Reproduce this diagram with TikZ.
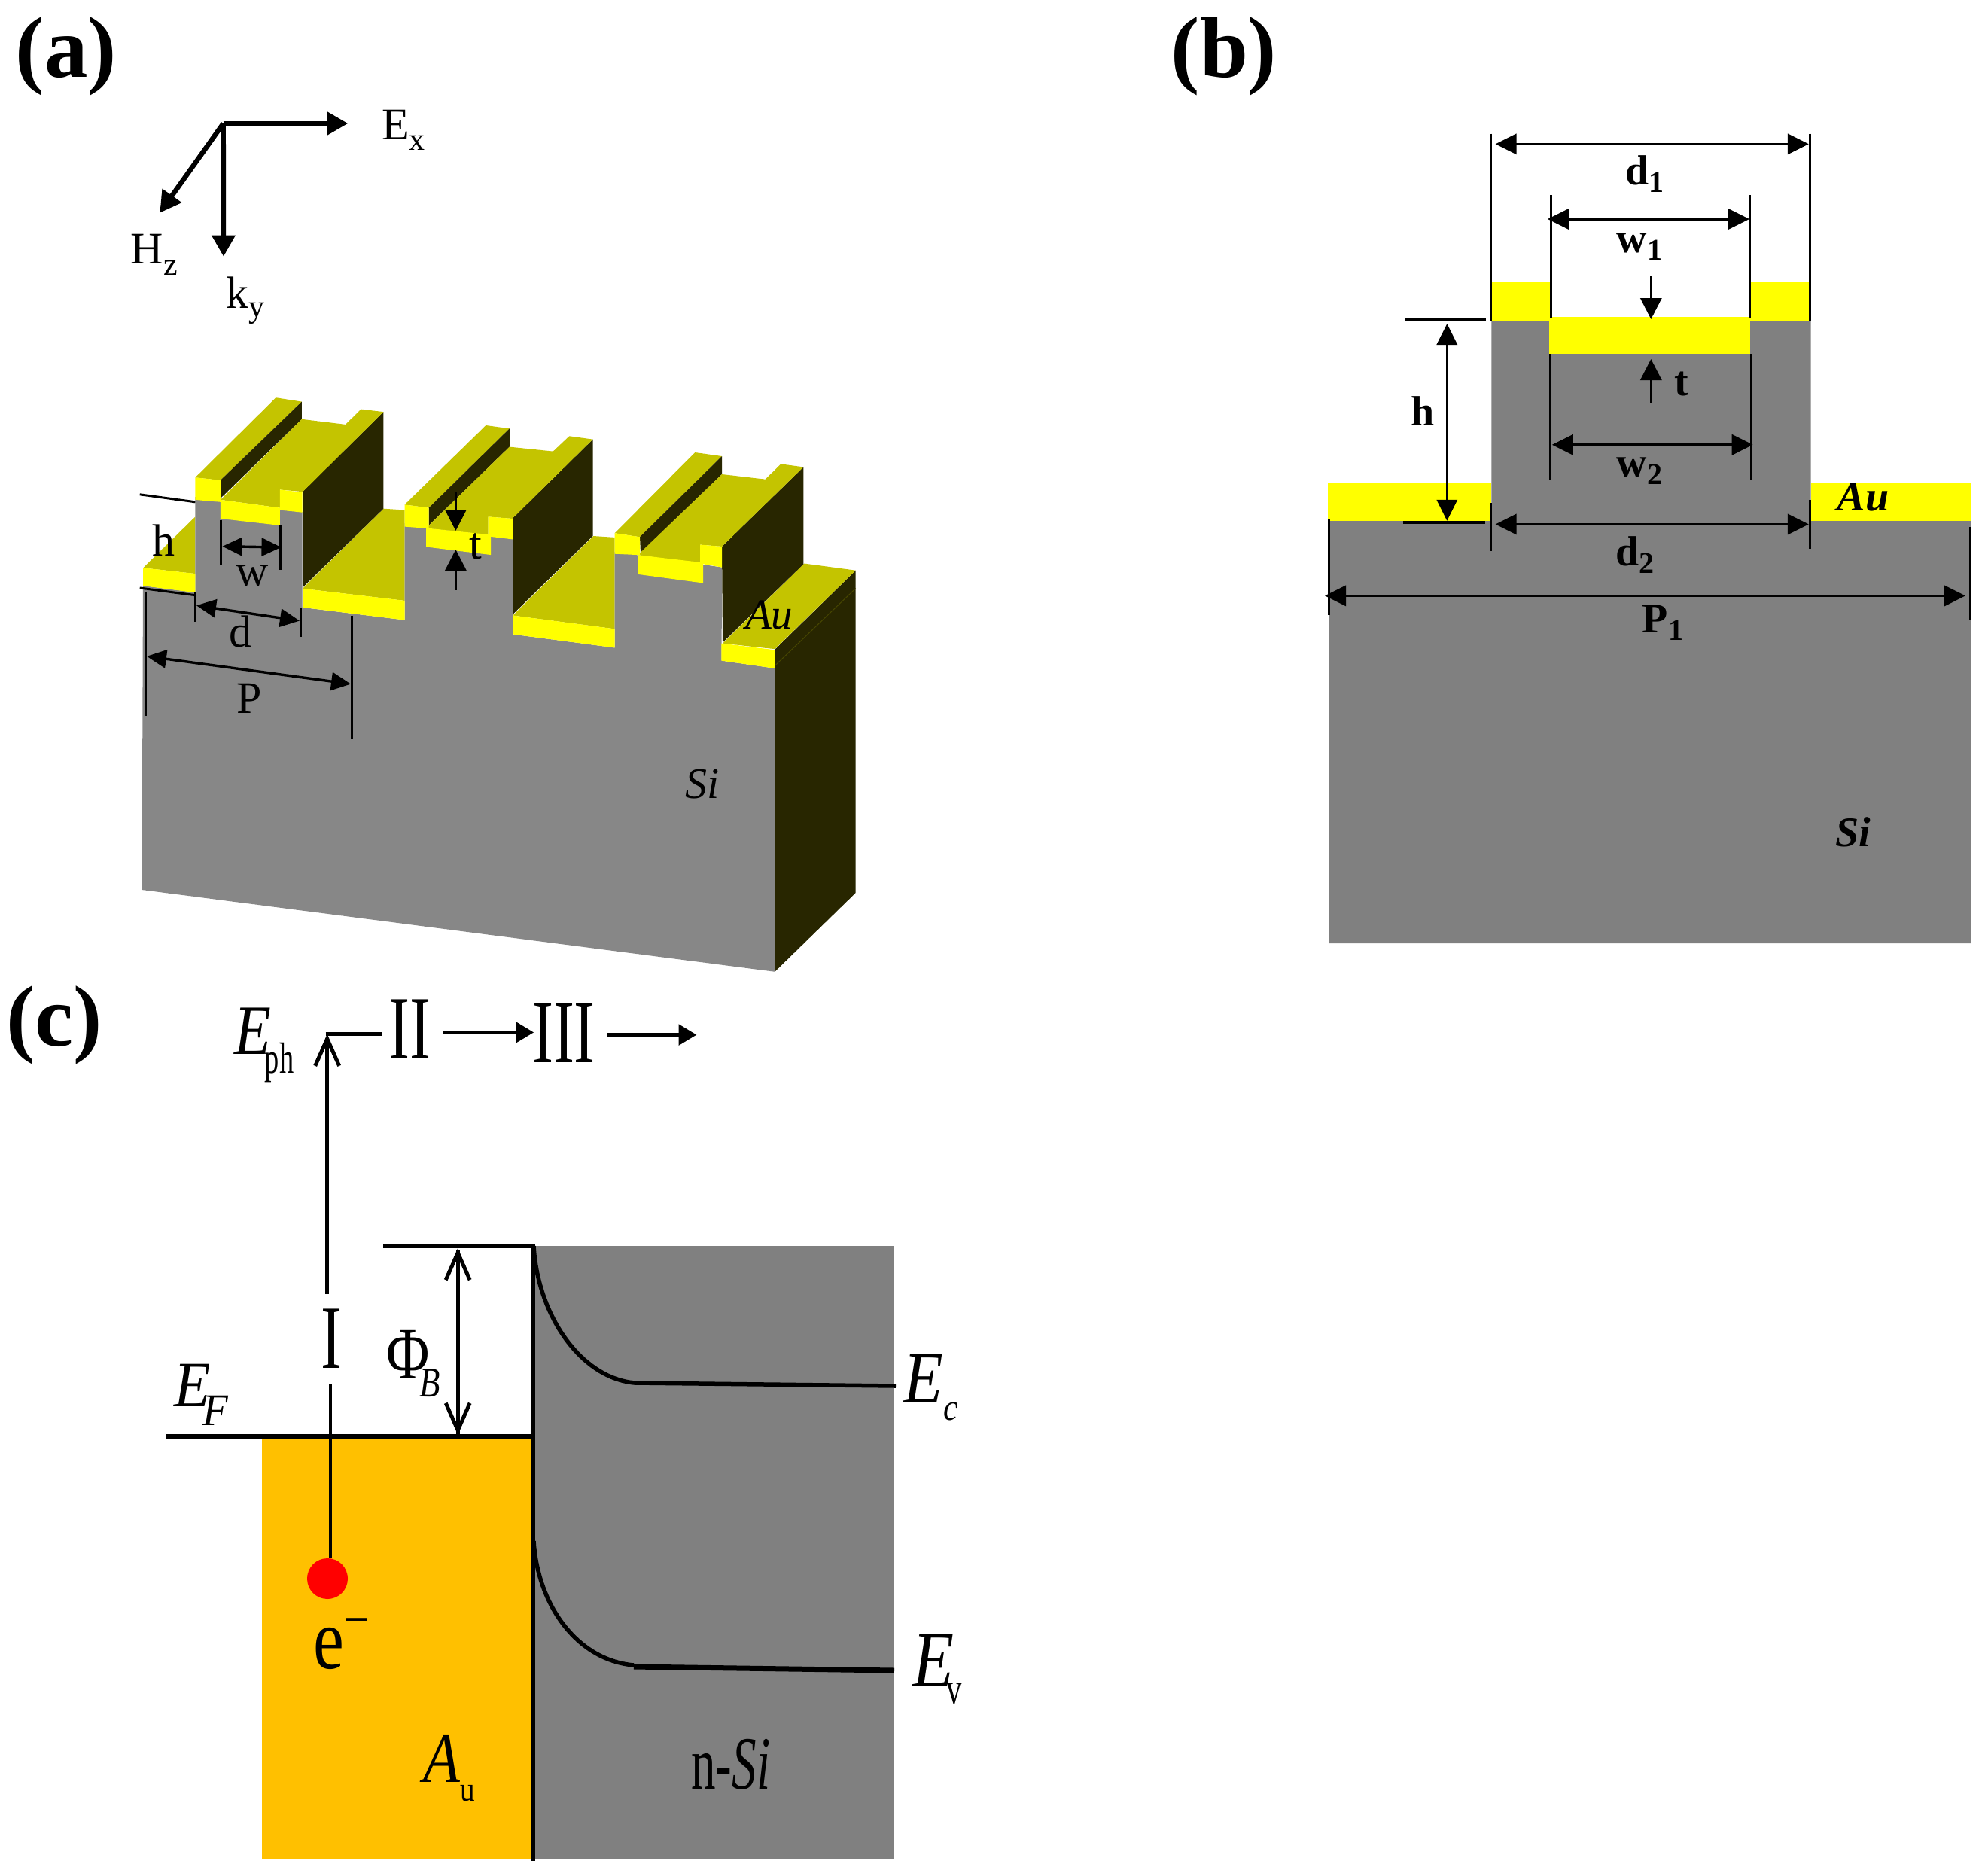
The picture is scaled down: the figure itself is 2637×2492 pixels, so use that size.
\documentclass[tikz,border=0pt]{standalone}
\usepackage{fontspec}
\usepackage{graphicx}
\setmainfont{Liberation Serif}
\usetikzlibrary{arrows.meta}
\definecolor{sia}{HTML}{878787}
\definecolor{sib}{HTML}{808080}
\definecolor{olivetop}{HTML}{C4C400}
\definecolor{darkwall}{HTML}{282600}
\definecolor{aucut}{HTML}{FFFF00}
\definecolor{auband}{HTML}{FFC000}
\newcommand\fsz[1]{\fontsize{#1}{#1}\selectfont}
\newcommand\lsub[3]{\raisebox{-#1pt}{\fsz{#2}#3}}
\tikzset{
  x=1pt,y=-1pt,
  topface/.style={fill=olivetop,draw=none},
  wallface/.style={fill=darkwall,draw=none},
  cutface/.style={fill=aucut,draw=none},
  dimline/.style={line width=3pt,draw=black},
  dimtick/.style={line width=3pt,draw=black},
  dimarrow/.style={line width=3.4pt,draw=black,{Triangle[length=26pt,width=24pt]}-{Triangle[length=26pt,width=24pt]}},
  bdimarrow/.style={line width=3.4pt,draw=black,{Triangle[length=28pt,width=27pt]}-{Triangle[length=28pt,width=27pt]}},
  onearrow/.style={line width=3.4pt,draw=black,-{Triangle[length=28pt,width=28pt]}},
  axisarrow/.style={line width=6.5pt,draw=black,-{Triangle[length=28pt,width=30pt]}},
  flowarrow/.style={line width=5.5pt,draw=black,-{Triangle[length=24pt,width=27pt]}},
  barb/.style={line width=5pt,draw=black,-{Straight Barb[length=36pt,width=32pt]}},
  band/.style={line width=5.5pt,draw=black},
  lab/.style={inner sep=0pt,outer sep=0pt,anchor=base,font=\fsz{60}},
  blab/.style={inner sep=0pt,outer sep=0pt,anchor=base,font=\fsz{56}\bfseries},
  panel/.style={inner sep=0pt,outer sep=0pt,anchor=base,font=\fsz{115}\bfseries},
}
\begin{document}
\begin{tikzpicture}
\path[use as bounding box] (0,0) rectangle (2637,2492);

% ---------- panel labels
\node[panel] (pa) at (88,102) {(a)};
\node[panel] (pb) at (1626,102) {(b)};
\node[panel] (pc) at (72,1389) {(c)};

% ---------- axes
\coordinate (ax0) at (296.7,164);
\draw[axisarrow] (ax0) -- (462.3,164);
\draw[axisarrow] (ax0) -- (297,340.7);
\draw[axisarrow] (ax0) -- (212.3,282.7);
\node[lab] (ex) at (536,185) {E\lsub{14}{42}{x}};
\node[lab] (hz) at (204.7,350) {H\lsub{15}{42}{z}};
\node[lab] (ky) at (325.5,409) {k\lsub{12}{42}{y}};

% ---------- panel (a): block
\fill[wallface] (1030,862.2) -- (1136.7,757.7) -- (1136.7,1186) -- (1029.3,1290.8) -- cycle;
\draw[line width=1pt,color=darkwall!85!yellow] (1030,883.7) -- (1136.7,781.6);
% valleys
\fill[topface] (190.2,754.3) -- (259.4,686.4) -- (259.4,762.1) -- cycle;
\fill[topface] (402,781.8) -- (509.4,675.7) -- (537.5,677.5) -- (537.5,797.9) -- cycle;
\fill[topface] (681.3,817.5) -- (788.4,712) -- (816.5,713.9) -- (816.5,835.4) -- cycle;
\fill[topface] (960,854.6) -- (1068.3,748.5) -- (1136.7,757.7) -- (1029.3,862.2) -- cycle;
% big walls
\fill[wallface] (402,653) -- (509.4,547.1) -- (509.4,675.7) -- (402,780.5) -- cycle;
\fill[wallface] (680.4,689) -- (787.5,583.6) -- (787.5,712) -- (681.3,816) -- cycle;
\fill[wallface] (959,726) -- (1067.3,620.4) -- (1067.3,749.5) -- (960,853.5) -- cycle;
% gray front
\fill[sia] (190,778) -- (259.4,787) -- (259.4,660) -- (401.5,680) -- (401.5,806.8) -- (537.5,823.6)
  -- (537.5,695) -- (680.8,716) -- (680.8,842.5) -- (816.6,860.4) -- (816.6,733) -- (959,753.6)
  -- (958.6,877.6) -- (1029.3,887.8) -- (1029.3,1290.8) -- (188.5,1182) -- cycle;
% front yellow of valleys
\fill[cutface] (190.2,754.3) -- (259.4,762.1) -- (259.4,787.1) -- (190.2,778.2) -- cycle;
\fill[cutface] (402,781.8) -- (537.5,797.9) -- (537.5,823.6) -- (402,806.8) -- cycle;
\fill[cutface] (681.3,817.5) -- (816.5,835.4) -- (816.5,860.4) -- (681.3,842.5) -- cycle;
\fill[cutface] (958.3,854.6) -- (1029.3,863.3) -- (1029.3,887.8) -- (958.3,877.6) -- cycle;
% rib 1
\fill[topface] (259.4,634.3) -- (366.5,528.2) -- (400.9,533.6) -- (292.9,637.9) -- cycle;
\fill[wallface] (292.9,637.9) -- (400.9,533.6) -- (400.9,556.8) -- (292.9,662) -- cycle;
\fill[topface] (292.9,663.9) -- (400.9,556.8) -- (459,563.9) -- (479.5,543.6) -- (509.4,547.1)
  -- (402.2,653.2) -- (371.9,650.4) -- (371.9,674.6) -- cycle;
\fill[cutface] (259.4,634.3) -- (292.9,637.9) -- (292.9,666.8) -- (259.4,663.9) -- cycle;
\fill[cutface] (292.9,663.9) -- (371.9,674.6) -- (371.9,697.9) -- (292.9,688.9) -- cycle;
\fill[cutface] (371.9,650.4) -- (401.5,653.9) -- (401.5,680.7) -- (371.9,677.5) -- cycle;
% rib 2
\fill[topface] (537.5,670.4) -- (645.5,565) -- (676.8,569.3) -- (569.6,674.6) -- cycle;
\fill[wallface] (569.6,674.6) -- (676.8,569.3) -- (676.8,593.6) -- (569.6,697.9) -- cycle;
\fill[topface] (566,701.4) -- (676.8,593.6) -- (734.8,599.6) -- (756.3,579.3) -- (787.5,583.6)
  -- (680.4,689) -- (648.7,686.4) -- (648.7,710.4) -- cycle;
\fill[cutface] (537.5,670.4) -- (569.6,674.6) -- (569.6,702) -- (537.5,699.6) -- cycle;
\fill[cutface] (566,701.4) -- (652.2,710.4) -- (652.2,737.1) -- (566,726.4) -- cycle;
\fill[cutface] (648.7,686.4) -- (680.8,689) -- (680.8,716.4) -- (648.7,712.5) -- cycle;
% rib 3
\fill[topface] (816.7,708.2) -- (923.3,601) -- (959,606) -- (850,713.3) -- cycle;
\fill[wallface] (850,713.3) -- (959,606) -- (959,630) -- (851,734.7) -- cycle;
\fill[topface] (847.3,737.2) -- (959,630) -- (1016.7,636.7) -- (1037.3,616.3) -- (1067.3,620.4)
  -- (959,726) -- (930,723.5) -- (930,748.5) -- cycle;
\fill[cutface] (816.7,708.2) -- (850,713.3) -- (850,737.2) -- (816.7,735.7) -- cycle;
\fill[cutface] (847.3,737.2) -- (934,747.4) -- (934,774.5) -- (847.3,762.8) -- cycle;
\fill[cutface] (930,723.5) -- (959,726) -- (959,753.6) -- (930,748.5) -- cycle;
% (a) dimensions
\draw[dimline] (185.7,656.8) -- (259.4,666.8);
\draw[dimline] (185.7,781) -- (259.4,790.7);
\draw[dimtick] (293.8,690.7) -- (293.8,749.6);
\draw[dimtick] (372.3,697.9) -- (372.3,756.8);
\draw[dimarrow] (295.5,725.7) -- (373.5,727);
\draw[dimtick] (259.8,787) -- (259.8,825.7);
\draw[dimtick] (399,806.8) -- (399,846);
\draw[dimarrow] (261,804.3) -- (398,824.6);
\draw[dimtick] (193.3,787) -- (193.3,950.7);
\draw[dimtick] (467.4,817.5) -- (467.4,981.8);
\draw[dimarrow] (195,871.8) -- (466,908.6);
\draw[onearrow] (605.4,653.2) -- (605.4,705);
\draw[onearrow] (605.4,783.6) -- (605.4,730);
\node[lab] (ah) at (217.9,738) {h};
\node[lab] (aw) at (335,778) {w};
\node[lab] (ad) at (319.6,859) {d};
\node[lab] (ap) at (330.8,947) {P};
\node[lab] (at) at (632,742) {t};
\node[lab,font=\fsz{57}\itshape] (aau) at (1021.7,835) {Au};
\node[lab,font=\fsz{58}\itshape] (asi) at (932.7,1060) {Si};

% ---------- panel (b)
\fill[sib] (1765.6,691.8) -- (1981.4,691.8) -- (1981.4,425.5) -- (2405.7,425.5) -- (2405.7,691.8)
  -- (2618,691.8) -- (2618,1253) -- (1765.6,1253) -- cycle;
\fill[cutface] (1981.4,375) rectangle (2060,425.5);
\fill[cutface] (2325.3,375) rectangle (2404,425.5);
\fill[cutface] (2058.4,420.9) rectangle (2325.3,470);
\fill[cutface] (1764.4,641.3) rectangle (1981.4,691.8);
\fill[cutface] (2405.7,641.3) rectangle (2618.6,691.8);
\draw[dimtick] (1980.9,177.5) -- (1980.9,425.5);
\draw[dimtick] (2404.5,177.5) -- (2404.5,425.5);
\draw[bdimarrow] (1986.6,191.3) -- (2402.8,191.3);
\draw[dimtick] (2060,259.3) -- (2060,423);
\draw[dimtick] (2324,259.3) -- (2324,423);
\draw[bdimarrow] (2056,291) -- (2324,291);
\draw[onearrow] (2193.3,365.8) -- (2193.3,424);
\draw[onearrow] (2193.3,534.8) -- (2193.3,477);
\draw[dimtick] (2059.5,470) -- (2059.5,636.7);
\draw[dimtick] (2326.5,470) -- (2326.5,636.7);
\draw[bdimarrow] (2061.8,590.8) -- (2328.7,590.8);
\draw[dimtick] (1866.6,424) -- (1974,424);
\draw[line width=4pt] (1863.8,693.6) -- (1972.8,693.6);
\draw[bdimarrow] (1922.3,430) -- (1922.3,691.8);
\draw[dimtick] (1980.3,668) -- (1980.3,732);
\draw[dimtick] (2404,664) -- (2404,728.5);
\draw[bdimarrow] (1986.6,696.4) -- (2402.8,696.4);
\draw[dimtick] (1765.6,689.5) -- (1765.6,817);
\draw[dimtick] (2617,700) -- (2617,824);
\draw[bdimarrow] (1760,791.4) -- (2611,791.4);
\node[blab] (bd1) at (2185,245) {d\lsub{10}{40}{1}};
\node[blab] (bw1) at (2178,335) {w\lsub{10}{40}{1}};
\node[blab] (bw2) at (2178,633) {w\lsub{10}{40}{2}};
\node[blab] (bd2) at (2172,751) {d\lsub{10}{40}{2}};
\node[blab] (bp1) at (2209,840) {P\lsub{10}{40}{1}};
\node[blab] (bt) at (2233.4,525) {t};
\node[blab] (bh) at (1889.6,565) {h};
\node[blab,font=\fsz{56}\bfseries\itshape] (bau) at (2475,678) {Au};
\node[blab,font=\fsz{56}\bfseries\itshape] (bsi) at (2462,1124) {Si};

% ---------- panel (c)
\fill[auband] (348,1911) rectangle (708,2469);
\fill[sib] (710,1655) rectangle (1188,2469);
\draw[band] (221.4,1908) -- (708,1908);
\draw[band] (508.7,1655) -- (708.7,1655);
\draw[line width=5.5pt] (708.7,1653) -- (708.7,2472);
\draw[band] (709,1655) .. controls (714,1745) and (770,1830) .. (843,1837) -- (1190,1841);
\draw[band] (709,2047) .. controls (714,2130) and (765,2205) .. (842,2212);
\draw[line width=7pt] (842,2214) -- (1188,2219);
\draw[barb] (608.2,1905) -- (608.2,1658);
\draw[barb] (608.2,1660) -- (608.2,1906);
\draw[barb] (434.7,1718.8) -- (434.7,1373.7);
\draw[line width=5.5pt] (432.5,1373.7) -- (507,1373.7);
\draw[flowarrow] (588.8,1371.4) -- (709.2,1371.4);
\draw[flowarrow] (806,1374.6) -- (925.5,1374.6);
\draw[line width=4.5pt] (439,1838) -- (439,2070);
\fill[red] (435,2097) circle (27);
\tikzset{romanlab/.style={inner sep=0pt,outer sep=0pt,anchor=base,xscale=.7,font=\fsz{120}}}
\node[romanlab] (rii) at (544.5,1406) {II};
\node[romanlab] (riii) at (749,1411) {III};
\node[romanlab] (ri) at (440,1817) {I};
\node[lab,xscale=.85,font=\fsz{94}] (eph) at (351,1400) {\textit{E}\kern-10pt\lsub{25}{58}{\scalebox{.78}[1]{ph}}};
\node[lab,xscale=.92,font=\fsz{86}] (ef) at (267.5,1868) {\textit{E}\kern-12pt\lsub{25}{60}{\textit{F}}};
\node[lab,xscale=.8,font=\fsz{98}] (phib) at (549.4,1831) {Φ\kern-16pt\lsub{24}{56}{\textit{B}}};
\node[lab,xscale=.88,font=\fsz{98}] (ec) at (1237,1863) {\textit{E}\lsub{23}{50}{\textit{c}}};
\node[lab,xscale=.85,font=\fsz{106}] (ev) at (1245,2240) {\textit{E}\kern-12pt\lsub{23}{60}{\scalebox{.8}[1]{v}}};
\node[lab,xscale=.85,font=\fsz{94}] (au) at (596.5,2367) {\textit{A}\lsub{25}{46}{u}};
\node[lab,xscale=.65,font=\fsz{100}] (nsi) at (970.7,2376) {n-\textit{Si}};
\node[lab,xscale=.8,font=\fsz{115}] (em) at (454,2216) {e\raisebox{40pt}{\fsz{75}−}};
\end{tikzpicture}
\end{document}
